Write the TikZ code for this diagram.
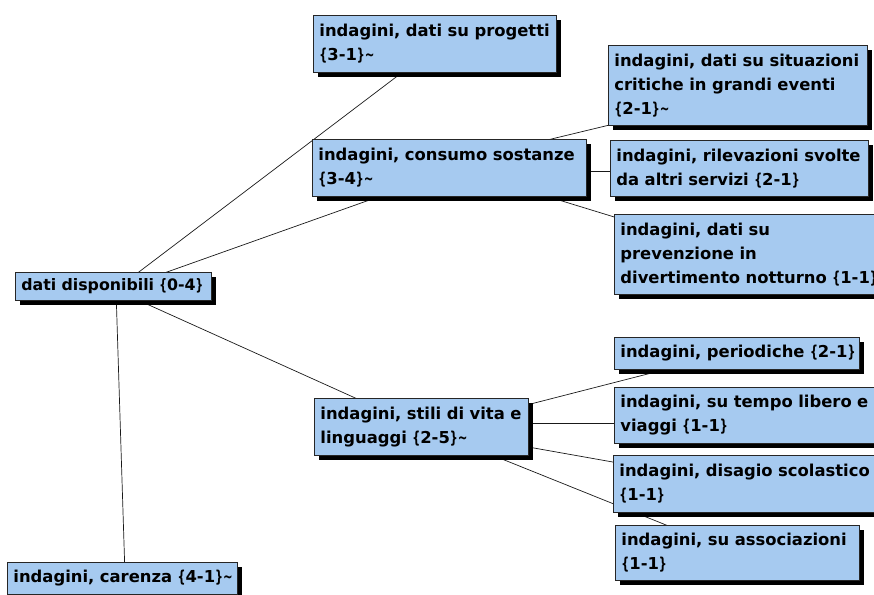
\documentclass[tikz,border=0pt]{standalone}
\usepackage{fontspec}
\usepackage{graphicx}
\setmainfont{DejaVu Sans}
\usetikzlibrary{shadows,calc}
\definecolor{boxblue}{RGB}{166,202,240}
% narrower braces and tilde for the counters
\newcommand\lbr{\scalebox{0.68}[1]{\{}}
\newcommand\rbr{\scalebox{0.68}[1]{\}}}
\newcommand\tld{\scalebox{0.7}[1]{\textasciitilde}}
\pgfdeclarelayer{background}
\pgfsetlayers{background,main}
\tikzset{
  topic/.style={draw=black!85, line width=0.8pt, fill=boxblue, anchor=north west,
    inner xsep=6pt, inner ysep=2pt, align=left, text=black,
    font=\bfseries\fontsize{16.4}{24}\selectfont,
    drop shadow={shadow xshift=5pt, shadow yshift=-5pt, fill=black, opacity=1}},
  link/.style={draw=black!90, line width=0.7pt}
}
\begin{document}
\begin{tikzpicture}[x=1pt,y=-1pt]
\useasboundingbox (0,0) rectangle (874,594);
% topics: position = top-left corner, width and height in px; \mbox keeps each line unbroken
\node[topic, text width=231pt, minimum height=57pt] (progetti) at (313,15) {\mbox{indagini, dati su progetti}\\\lbr3-1\rbr\tld};
\node[topic, text width=184pt, minimum height=28pt, inner xsep=6pt, font=\bfseries\fontsize{15.8}{24}\selectfont] (dati) at (15,272) {\mbox{dati disponibili \lbr0-4\rbr}};
\node[topic, text width=262pt, minimum height=57pt] (consumo) at (312,139) {\mbox{indagini, consumo sostanze}\\\lbr3-4\rbr\tld};
\node[topic, text width=247pt, minimum height=80pt] (situazioni) at (608,45) {\mbox{indagini, dati su situazioni}\\\mbox{critiche in grandi eventi}\\\lbr2-1\rbr\tld};
\node[topic, text width=246pt, minimum height=56pt] (rilevazioni) at (610,140) {\mbox{indagini, rilevazioni svolte}\\\mbox{da altri servizi \lbr2-1\rbr}};
\node[topic, text width=268pt, minimum height=80pt] (prevenzione) at (614,214) {\mbox{indagini, dati su}\\\mbox{prevenzione in}\\\mbox{divertimento notturno \lbr1-1\rbr}};
\node[topic, text width=233pt, minimum height=32pt] (periodiche) at (614,337) {\mbox{indagini, periodiche \lbr2-1\rbr}};
\node[topic, text width=268pt, minimum height=56pt] (tempo) at (614,387) {\mbox{indagini, su tempo libero e}\\\mbox{viaggi \lbr1-1\rbr}};
\node[topic, text width=268pt, minimum height=57pt] (disagio) at (613,455) {\mbox{indagini, disagio scolastico}\\\lbr1-1\rbr};
\node[topic, text width=232pt, minimum height=55pt] (associazioni) at (615,525) {\mbox{indagini, su associazioni}\\\lbr1-1\rbr};
\node[topic, text width=202pt, minimum height=57pt] (stili) at (314,398) {\mbox{indagini, stili di vita e}\\\mbox{linguaggi \lbr2-5\rbr\tld}};
\node[topic, text width=218pt, minimum height=32pt] (carenza) at (7,562) {\mbox{indagini, carenza \lbr4-1\rbr\tld}};
% connectors run behind the topics
\begin{pgfonlayer}{background}
\draw[link] ($(dati.north west)+(112,9)$) -- ($(progetti.north west)+(95,53)$);
\draw[link] ($(dati.north west)+(138,5)$) -- ($(consumo.north west)+(80,53)$);
\draw[link] ($(dati.north west)+(114,24)$) -- ($(stili.north west)+(59,8)$);
\draw[link] ($(dati.north west)+(101,18)$) -- ($(carenza.north west)+(118,13)$);
\draw[link] ($(consumo.north west)+(227,3)$) -- ($(situazioni.north west)+(14,77)$);
\draw[link] ($(consumo.north west)+(263,32)$) -- ($(rilevazioni.north west)+(15,31)$);
\draw[link] ($(consumo.north west)+(224,54)$) -- ($(prevenzione.north west)+(10,6)$);
\draw[link] ($(stili.north west)+(201,10)$) -- ($(periodiche.north west)+(57,31)$);
\draw[link] ($(stili.north west)+(201,25)$) -- ($(tempo.north west)+(11,36)$);
\draw[link] ($(stili.north west)+(203,47)$) -- ($(disagio.north west)+(11,9)$);
\draw[link] ($(stili.north west)+(173,55)$) -- ($(associazioni.north west)+(61,4)$);
\end{pgfonlayer}
\end{tikzpicture}
\end{document}
